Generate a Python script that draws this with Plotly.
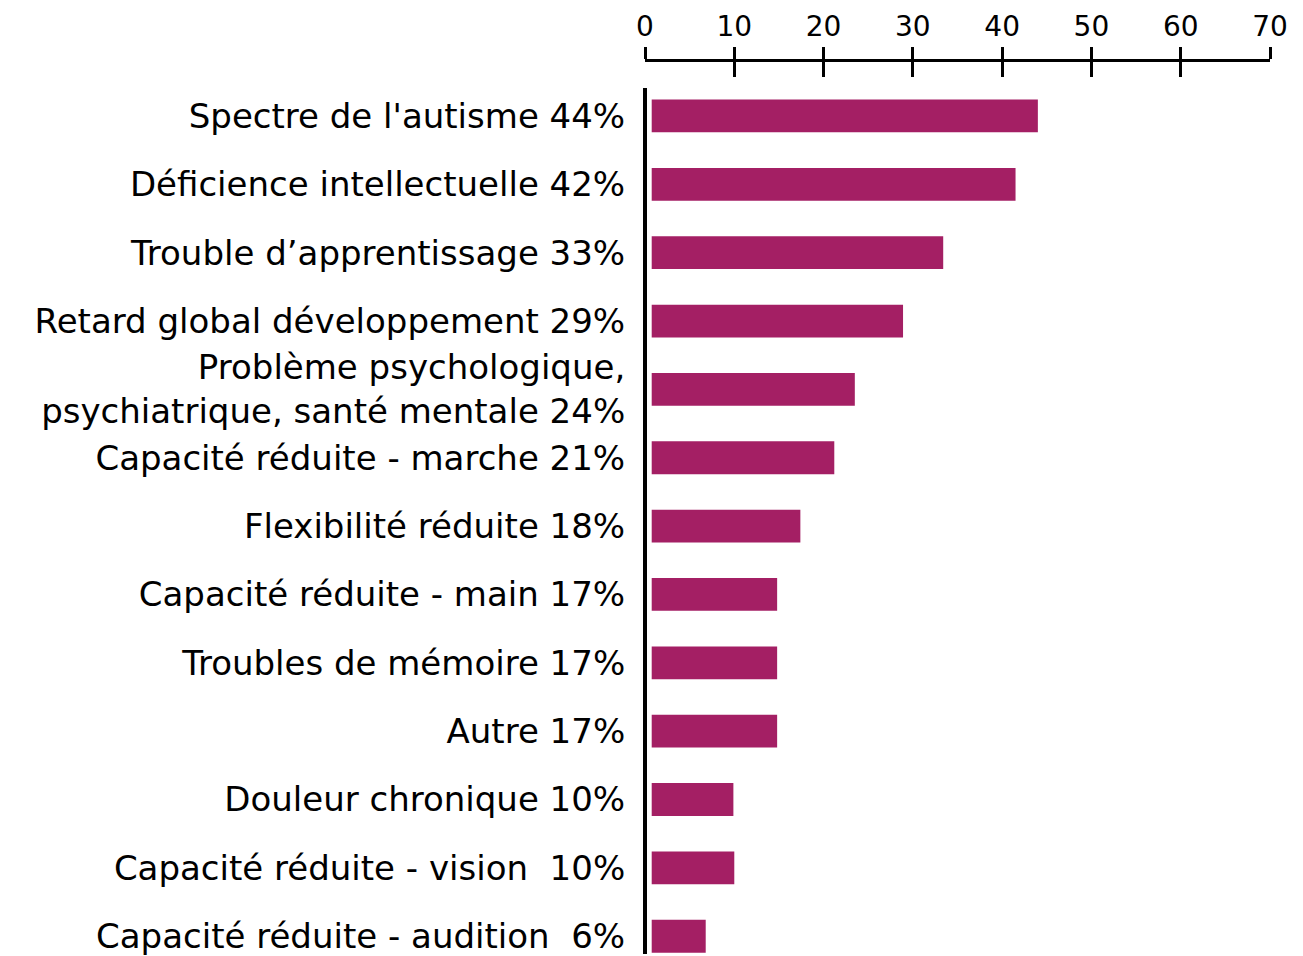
import plotly.graph_objects as go

categories = [
    "Spectre de l'autisme 44%",
    "Déficience intellectuelle 42%",
    "Trouble d’apprentissage 33%",
    "Retard global développement 29%",
    "Problème psychologique,<br>psychiatrique, santé mentale 24%",
    "Capacité réduite - marche 21%",
    "Flexibilité réduite 18%",
    "Capacité réduite - main 17%",
    "Troubles de mémoire 17%",
    "Autre 17%",
    "Douleur chronique 10%",
    "Capacité réduite - vision\u00a0 10%",
    "Capacité réduite - audition\u00a0 6%",
]
values = [44.0, 41.5, 33.4, 28.9, 23.5, 21.2, 17.4, 14.8, 14.8, 14.8, 9.9, 10.0, 6.8]
x_ticks = [0, 10, 20, 30, 40, 50, 60, 70]

BAR = "#A41F64"
FONT = "DejaVu Sans"

fig = go.Figure()
fig.add_trace(go.Bar(
    x=values, y=categories, orientation="h",
    marker=dict(color=BAR, line=dict(width=0)),
    hoverinfo="skip",
))
# helper trace for the second (inside) tick set
fig.add_trace(go.Scatter(x=[None], y=[None], xaxis="x2", showlegend=False))

# page body has an 8px default margin, so the figure is sized/offset for it
W, H = 1295, 948
top_margin = 52
plot_top_px = 80
dom_top = (H - plot_top_px) / (H - top_margin)

fig.update_layout(
    width=W, height=H,
    margin=dict(l=637, r=33, t=top_margin, b=0, pad=0),
    paper_bgcolor="white", plot_bgcolor="white",
    showlegend=False,
    bargap=0.52,
    font=dict(family=FONT, color="black", size=30),
    xaxis=dict(
        range=[0, 70], side="top", anchor="free", position=1,
        tickvals=x_ticks, ticktext=[str(t) for t in x_ticks],
        showgrid=False, zeroline=False,
        showline=True, linecolor="black", linewidth=3,
        ticks="outside", ticklen=12, tickwidth=3, tickcolor="black",
        tickfont=dict(size=28, family=FONT),
        fixedrange=True,
    ),
    xaxis2=dict(
        range=[0, 70], overlaying="x", side="top", anchor="free", position=1,
        tickvals=x_ticks, showticklabels=False,
        showgrid=False, zeroline=False, showline=False,
        ticks="inside", ticklen=16, tickwidth=3, tickcolor="black",
    ),
    yaxis=dict(
        domain=[0, dom_top],
        range=[12.26, -0.41],
        type="category",
        showgrid=False, zeroline=False,
        showline=False,
        ticks="outside", ticklen=12, tickcolor="rgba(0,0,0,0)",
        tickfont=dict(size=34, family=FONT),
        fixedrange=True,
    ),
    shapes=[
        dict(type="rect", xref="x", yref="paper", x0=0, x1=0.75, y0=0, y1=dom_top,
             fillcolor="white", line=dict(width=0), layer="above"),
        dict(type="line", xref="paper", yref="paper", x0=0, x1=0, y0=0, y1=dom_top,
             line=dict(color="black", width=4), layer="above"),
    ],
)

fig.write_html("out.html")
